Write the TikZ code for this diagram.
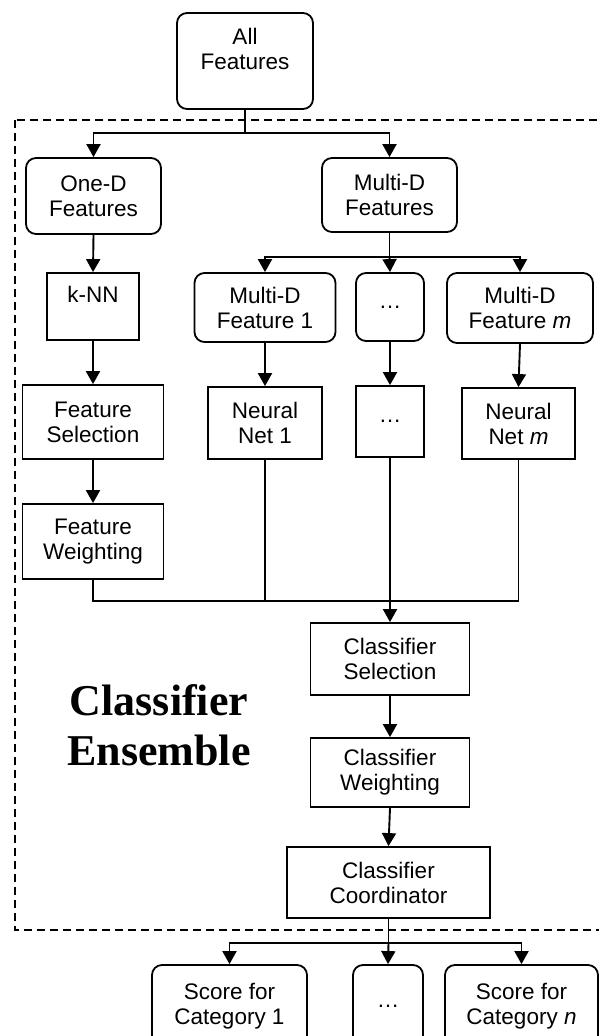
\documentclass[tikz,border=0pt]{standalone}
\usepackage{fontspec}
\setmainfont{Liberation Sans}
\newfontfamily\ensfont{Liberation Serif}
\usetikzlibrary{arrows.meta}
\begin{document}
\begin{tikzpicture}[x=1pt,y=-1pt,
  box/.style={draw, line width=1.8pt, inner sep=0pt, align=center,
    font=\fontsize{22.5}{25}\selectfont},
  rbox/.style={box, rounded corners=10pt},
  arr/.style={line width=1.9pt, -{Triangle[width=14pt,length=13pt]}},
  link/.style={line width=1.9pt},
  feed/.style={line width=1.2pt},
  ens/.style={font=\ensfont\bfseries\fontsize{44}{50}\selectfont, align=center, inner sep=0pt},
  frame/.style={line width=1.6pt, dash pattern=on 8pt off 5pt}]
\clip (0,0) rectangle (599,1036);
\fill[white] (0,0) rectangle (599,1036);

% dashed ensemble frame
\draw[frame] (15,120) rectangle (640,930);

% nodes
\node[rbox, minimum width=136pt, minimum height=96pt] (all) at (245,61) {All\\Features\\~};
\node[rbox, minimum width=135pt, minimum height=76pt] (oned) at (93.5,196) {One-D\\Features};
\node[rbox, minimum width=135pt, minimum height=74pt] (multi) at (389.5,195) {Multi-D\\Features};
\node[box, minimum width=92pt, minimum height=67pt] (knn) at (93,306.5) {k-NN\\~};
\node[rbox, minimum width=141pt, minimum height=69pt] (mf1) at (265,307.5) {Multi-D\\Feature 1};
\node[rbox, minimum width=68pt, minimum height=68pt] (dots1) at (390,307) {…};
\node[rbox, minimum width=146pt, minimum height=70pt] (mfm) at (520,308) {Multi-D\\Feature \textit{m}};
\node[box, minimum width=141pt, minimum height=74pt] (fs) at (93,422) {Feature\\Selection};
\node[box, minimum width=141pt, minimum height=75pt] (fw) at (93,541.5) {Feature\\Weighting};
\node[box, minimum width=114pt, minimum height=72pt] (nn1) at (265,423) {Neural\\Net 1};
\node[box, minimum width=68pt, minimum height=71pt] (dots2) at (390,421.5) {…};
\node[box, minimum width=113pt, minimum height=71pt] (nnm) at (518.5,423.5) {Neural\\Net \textit{m}};
\node[box, minimum width=159pt, minimum height=72pt] (cs) at (390,659) {Classifier\\Selection};
\node[box, minimum width=159pt, minimum height=69pt] (cw) at (390,772.5) {Classifier\\Weighting};
\node[box, minimum width=203pt, minimum height=71pt] (cc) at (388.5,882.5) {Classifier\\Coordinator};
\node[rbox, minimum width=155pt, minimum height=82pt] (s1) at (229.5,1006) {Score for\\Category 1};
\node[rbox, minimum width=70pt, minimum height=82pt] (sd) at (388,1006) {…};
\node[rbox, minimum width=153pt, minimum height=82pt] (sn) at (521.5,1006) {Score for\\Category \textit{n}};
\node[ens] (ensemble) at (159,725) {Classifier\\Ensemble};

% junctions
\coordinate (j1) at (245,133);
\coordinate (j2) at (389.5,257);
\coordinate (j3) at (390,601);
\coordinate (j4) at (388.5,943);

% connectors
\draw[link] (all.south) -- (j1);
\draw[arr] (j1) -| (oned.north);
\draw[arr] (j1) -| (multi.north);
\draw[arr] (oned.south) -- (knn.north);
\draw[arr] (knn.south) -- (fs.north);
\draw[arr] (fs.south) -- (fw.north);
\draw[link] (multi.south) -- (j2);
\draw[arr] (j2) -| (mf1.north);
\draw[arr] (j2) -- (dots1.north);
\draw[arr] (j2) -| (mfm.north);
\draw[arr] (mf1.south) -- (nn1.north);
\draw[arr] (dots1.south) -- (dots2.north);
\draw[arr] (mfm.south) -- (nnm.north);
\draw[feed] (fw.south) |- (j3);
\draw[feed] (nn1.south) |- (j3);
\draw[feed] (dots2.south) -- (j3);
\draw[feed] (nnm.south) |- (j3);
\draw[link] (nn1.south |- j3) -- (j3);
\draw[arr] (j3) -- (cs.north);
\draw[arr] (cs.south) -- (cw.north);
\draw[arr] (cw.south) -- (cc.north);
\draw[link] (cc.south) -- (j4);
\draw[arr] (j4) -| (s1.north);
\draw[arr] (j4) -- (sd.north);
\draw[arr] (j4) -| (sn.north);
\end{tikzpicture}
\end{document}
